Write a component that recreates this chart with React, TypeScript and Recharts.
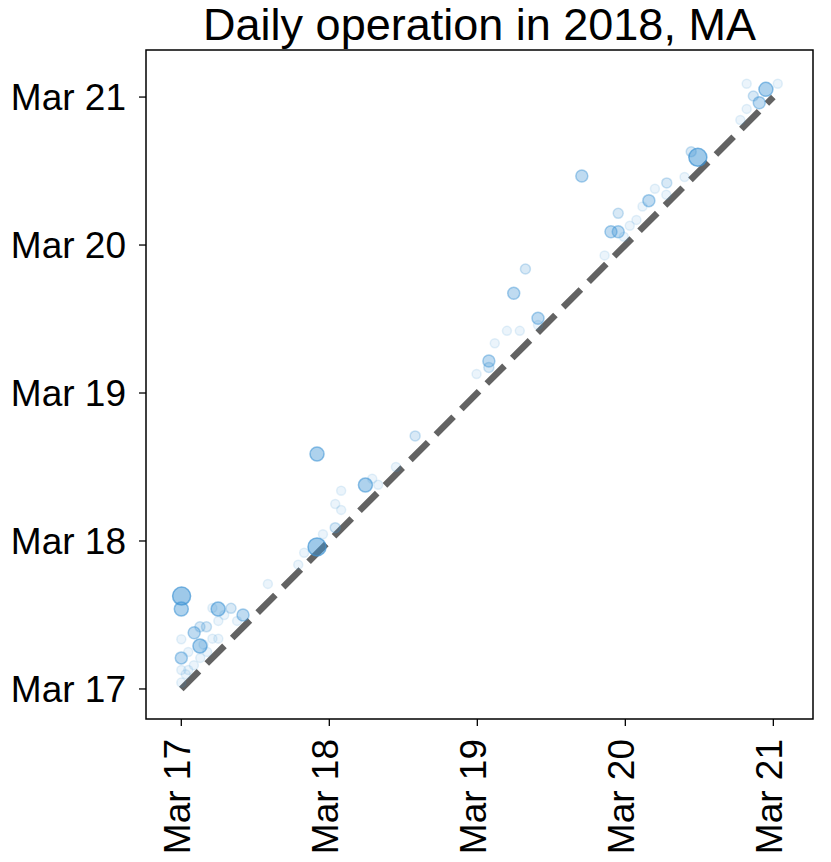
import React from 'react';
import { ScatterChart, Scatter, XAxis, YAxis, ReferenceLine, ReferenceArea } from 'recharts';

// day offsets from Mar 17 (x = scheduled, y = actual), plus a weight level 1..5
const dayX = [
  0.002, 0.0, 0.249, 0.336, 0.417, 0.21, 0.29, 0.25, 0.377, 0.126, 0.17, 0.087, 0.0, 0.126, 0.21, 0.25,
  0.175, 0.047, 0.0, 0.128, 0.085, 0.047, 0.0, 0.0, 0.585, 0.15, 0.03,
  0.917, 1.58, 1.244, 1.29, 1.33, 1.08, 1.04, 1.08, 1.45, 1.04, 0.957, 0.917, 0.83, 0.79,
  2.325, 2.246, 2.41, 2.41, 2.2, 2.287, 2.118, 2.078, 2.078, 1.995,
  2.706, 3.49, 3.445, 3.95, 3.865, 3.905, 3.82, 4.03, 3.82, 3.777, 3.28, 3.2, 3.277, 3.159, 3.116,
  2.952, 3.075, 3.03, 2.903, 2.952, 2.99, 3.4, 2.86,
];
const dayY = [
  0.628, 0.54, 0.54, 0.545, 0.5, 0.547, 0.5, 0.46, 0.46, 0.42, 0.42, 0.38, 0.336, 0.29, 0.34, 0.34,
  0.25, 0.25, 0.21, 0.21, 0.16, 0.128, 0.128, 0.043, 0.71, 0.3, 0.1,
  1.588, 1.71, 1.378, 1.42, 1.38, 1.34, 1.25, 1.21, 1.5, 1.09, 1.045, 0.96, 0.92, 0.84,
  2.838, 2.674, 2.505, 2.46, 2.42, 2.42, 2.336, 2.216, 2.173, 2.128,
  3.466, 3.593, 3.63, 4.052, 4.007, 3.962, 4.09, 4.09, 3.92, 3.845, 3.42, 3.38, 3.34, 3.3, 3.26,
  3.214, 3.17, 3.13, 3.09, 3.09, 3.056, 3.46, 2.93,
];
const weight = [
  5, 4, 4, 2, 3, 1, 1, 1, 1, 2, 2, 3, 1, 4, 1, 1,
  1, 1, 3, 1, 1, 1, 1, 1, 1, 1, 1,
  4, 2, 4, 1, 1, 1, 1, 1, 1, 2, 1, 5, 1, 1,
  2, 3, 3, 1, 1, 1, 1, 3, 2, 1,
  3, 5, 2, 4, 2, 3, 1, 1, 1, 1, 2, 1, 1, 3, 1,
  2, 1, 1, 3, 3, 1, 1, 1,
];
const dayTicks = [0, 1, 2, 3, 4];
const dayLabels = ['Mar 17', 'Mar 18', 'Mar 19', 'Mar 20', 'Mar 21'];
const diagonal = [0, 4];

const points = dayX.map((x, i) => ({ x, y: dayY[i], w: weight[i] }));

const radius = [0, 4.5, 5, 6, 7, 9];
const alpha = [0, 0.1, 0.2, 0.33, 0.42, 0.5];
const BLUE = '#3d93d4';
const FONT = '"Liberation Sans", Arial, Helvetica, sans-serif';

const X_DOMAIN = [-0.2385, 4.268];
const Y_DOMAIN = [-0.203, 4.318];

function Dot(props: any) {
  const { cx, cy, payload } = props;
  const w = payload.w;
  return (
    <circle
      cx={cx}
      cy={cy}
      r={radius[w]}
      fill={BLUE}
      fillOpacity={alpha[w]}
      stroke={BLUE}
      strokeOpacity={Math.min(1, alpha[w] * 1.35)}
      strokeWidth={1.5}
    />
  );
}

function XTick(props: any) {
  const { x, y, payload } = props;
  return (
    <text
      transform={`translate(${x + 9},${y + 11}) rotate(-90)`}
      textAnchor="end"
      fontSize={37}
      fontFamily={FONT}
      fill="#000"
    >
      {dayLabels[payload.index]}
    </text>
  );
}

function YTick(props: any) {
  const { x, y, payload } = props;
  return (
    <text x={x - 11} y={y + 13} textAnchor="end" fontSize={37} fontFamily={FONT} fill="#000">
      {dayLabels[payload.index]}
    </text>
  );
}

export default function App() {
  return (
    <div style={{ position: 'absolute', left: 0, top: 0, width: 831, height: 862, background: '#fff' }}>
      <svg width={831} height={60} style={{ position: 'absolute', left: 0, top: 0, overflow: 'visible' }}>
        <text x={479.5} y={40} textAnchor="middle" fontSize={45} fontFamily={FONT} fill="#000">
          Daily operation in 2018, MA
        </text>
      </svg>
      <ScatterChart width={831} height={862} margin={{ top: 50, right: 18, bottom: 0, left: 0 }}>
        <XAxis
          type="number"
          dataKey="x"
          domain={X_DOMAIN}
          ticks={dayTicks}
          allowDataOverflow
          height={143}
          axisLine={false}
          tickLine={{ stroke: '#000', strokeWidth: 1.3 }}
          tickSize={7}
          tick={<XTick />}
          interval={0}
        />
        <YAxis
          type="number"
          dataKey="y"
          domain={Y_DOMAIN}
          ticks={dayTicks}
          allowDataOverflow
          width={146}
          axisLine={false}
          tickLine={{ stroke: '#000', strokeWidth: 1.3 }}
          tickSize={7}
          tick={<YTick />}
          interval={0}
        />
        <ReferenceArea
          x1={X_DOMAIN[0]}
          x2={X_DOMAIN[1]}
          y1={Y_DOMAIN[0]}
          y2={Y_DOMAIN[1]}
          fill="none"
          stroke="#000"
          strokeWidth={1.5}
          ifOverflow="visible"
        />
        <Scatter data={points} shape={<Dot />} isAnimationActive={false} />
        <ReferenceLine
          segment={[
            { x: diagonal[0], y: diagonal[0] },
            { x: diagonal[1], y: diagonal[1] },
          ]}
          stroke="#636363"
          strokeWidth={6.5}
          strokeDasharray="25 11"
          ifOverflow="visible"
        />
      </ScatterChart>
    </div>
  );
}
